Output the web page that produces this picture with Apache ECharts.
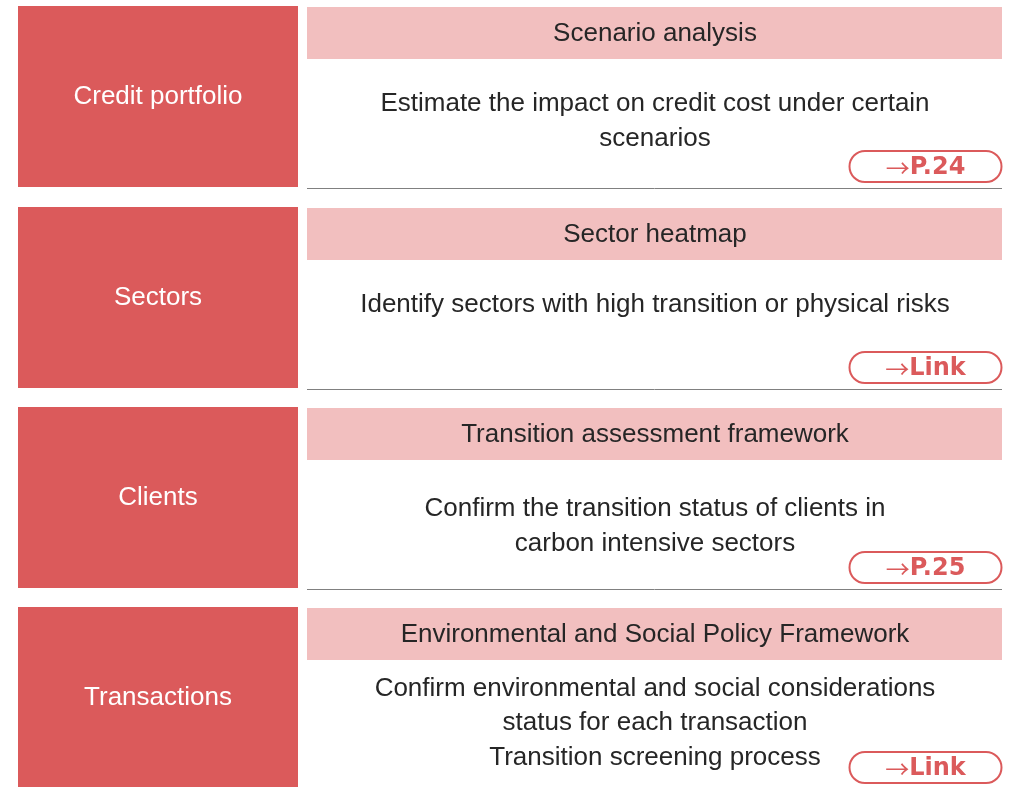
<!DOCTYPE html>
<html>
<head>
<meta charset="utf-8">
<script src="https://cdn.jsdelivr.net/npm/echarts@6/dist/echarts.min.js"></script>
<style>html,body{margin:0;padding:0;background:#fff}#c{width:1011px;height:787px}</style>
</head>
<body>
<div id="c"></div>
<script>
var categories = ['Credit portfolio', 'Sectors', 'Clients', 'Transactions'];
var headers = ['Scenario analysis', 'Sector heatmap', 'Transition assessment framework', 'Environmental and Social Policy Framework'];
var descriptions = [
  ['Estimate the impact on credit cost under certain', 'scenarios'],
  ['Identify sectors with high transition or physical risks'],
  ['Confirm the transition status of clients in', 'carbon intensive sectors'],
  ['Confirm environmental and social considerations', 'status for each transaction', 'Transition screening process']
];
var linkArrow = '\u2192';
var links = ['P.24', 'Link', 'P.25', 'Link'];

var RED = '#db5a5b', PINK = '#f2bfbf', TXT = '#262626';
var FAM = 'Liberation Sans';
var tops = [6, 207, 407, 607];
var boxH = 181;
var descY = [[104, 139], [305], [509, 544], [689, 723, 758]];
var els = [];
function txt(x, y, s, color, size) {
  return {type: 'text', x: x, y: y, style: {text: s, fill: color, fontFamily: FAM, fontSize: size, align: 'center', verticalAlign: 'middle'}};
}
categories.forEach(function (cat, i) {
  var t = tops[i];
  els.push({type: 'rect', shape: {x: 18, y: t, width: 280, height: boxH}, style: {fill: RED}});
  els.push(txt(158, t + boxH / 2, cat, '#fff', 26));
  els.push({type: 'rect', shape: {x: 307, y: t + 1, width: 695, height: 52}, style: {fill: PINK}});
  els.push(txt(655, t + 28, headers[i], TXT, 26));
  descriptions[i].forEach(function (line, j) {
    els.push(txt(655, descY[i][j], line, TXT, 26));
  });
  if (i < 3) {
    els.push({type: 'line', shape: {x1: 307, y1: t + 182.5, x2: 1002, y2: t + 182.5}, style: {stroke: '#808080', lineWidth: 1}});
  }
  var py = t + 145;
  els.push({type: 'rect', shape: {x: 849.5, y: py, width: 152, height: 31, r: 15.5}, style: {fill: '#fff', stroke: RED, lineWidth: 2}});
  els.push({type: 'text', x: 925.5, y: py + 17, style: {
    text: '{a|' + linkArrow + '}{b|' + links[i] + '}',
    align: 'center', verticalAlign: 'middle',
    rich: {
      a: {fill: RED, fontFamily: 'Noto Sans CJK JP', fontSize: 24},
      b: {fill: RED, fontFamily: 'DejaVu Sans', fontWeight: 'bold', fontSize: 24}
    }
  }});
});

var chart = echarts.init(document.getElementById('c'));
chart.setOption({animation: false, graphic: {elements: els}});
</script>
</body>
</html>
